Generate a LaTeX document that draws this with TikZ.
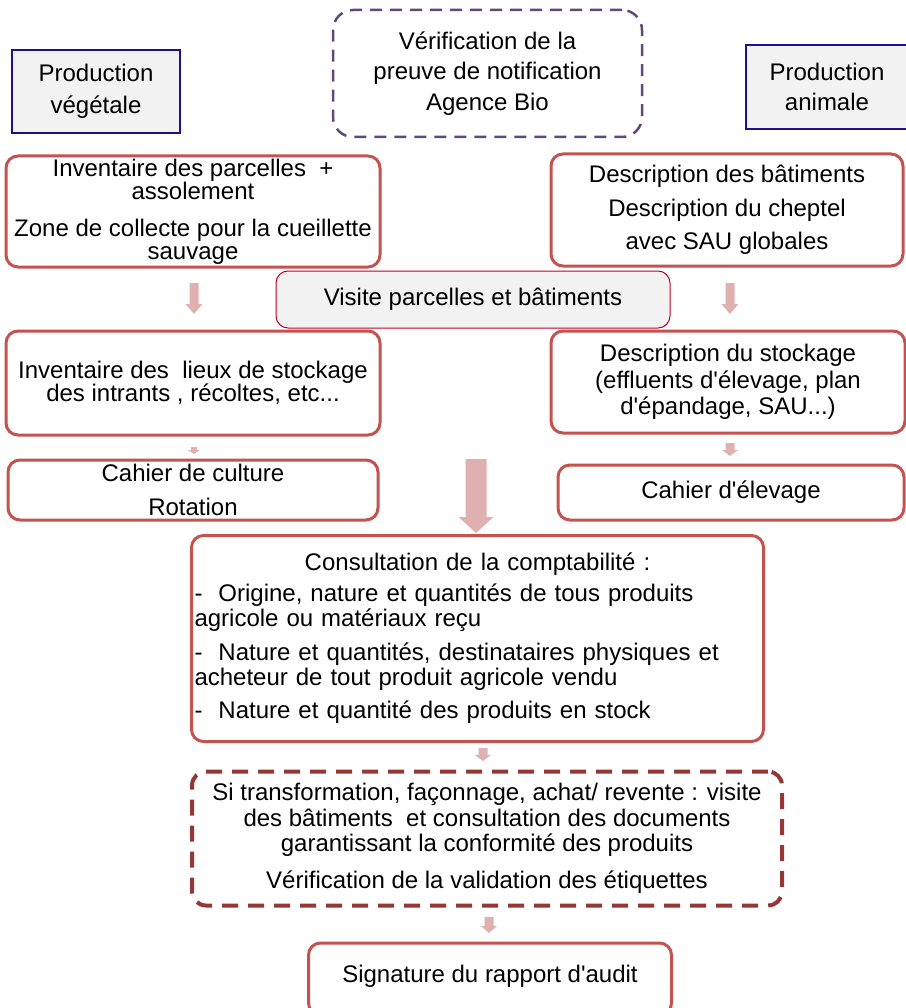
\documentclass[tikz,border=0pt]{standalone}
\usepackage{fontspec}
\setmainfont{Liberation Sans}
\definecolor{boxred}{HTML}{C4524F}
\definecolor{navyline}{HTML}{20108C}
\definecolor{lightfill}{HTML}{F2F2F2}
\definecolor{verifline}{HTML}{5F497A}
\definecolor{visitline}{HTML}{C0002A}
\definecolor{transfline}{HTML}{953735}
\definecolor{arrowpink}{HTML}{DFB0B0}
\newcommand{\ap}{\textquotesingle}
\newcommand{\blockarrow}[6]{%
  \fill[arrowpink] (#1-#4,-#2) -- (#1+#4,-#2) -- (#1+#4,-#3+#6) -- (#1+#5,-#3+#6)
    -- (#1,-#3) -- (#1-#5,-#3+#6) -- (#1-#4,-#3+#6) -- cycle;}

\begin{document}
\begin{tikzpicture}[x=1pt, y=1pt,
    every node/.style={font=\fontsize{24}{25}\selectfont, align=center, inner sep=0pt},
    prodbox/.style={draw=navyline, fill=lightfill, line width=2pt},
    verifbox/.style={draw=verifline, line width=2.5pt, dash pattern=on 12pt off 8pt, rounded corners=20pt},
    redbox/.style={draw=boxred, line width=3pt, rounded corners=12pt},
    visitbox/.style={draw=visitline, fill=lightfill, line width=1pt, rounded corners=12pt},
    transfbox/.style={draw=transfline, line width=4pt, dash pattern=on 16pt off 10pt, rounded corners=14pt}]
  \useasboundingbox (0,0) rectangle (905,-1008);

  \node[prodbox, minimum width=168, minimum height=83] (veg) at (96,-91.5) {Production\\[7pt]végétale};
  \node[verifbox, minimum width=309, minimum height=127] (verif) at (487.5,-73.5)
       {Vérification de la\\[5.5pt]preuve de notification\\[5.5pt]Agence Bio};
  \node[prodbox, minimum width=162, minimum height=84] (anim) at (827,-87) {Production\\[5pt]animale};

  \node[redbox, minimum width=374, minimum height=111] (parc) at (193,-211.5)
       {Inventaire des parcelles\ \ +\\[-2pt]assolement\\[12pt]Zone de collecte pour la cueillette\\[-2pt]sauvage};
  \node[redbox, minimum width=352, minimum height=112] (batim) at (727,-210)
       {Description des bâtiments\\[8.5pt]Description du cheptel\\[8.5pt]avec SAU globales};
  \node[visitbox, minimum width=394, minimum height=57] (visite) at (473,-299.5) {Visite parcelles et bâtiments};

  \node[redbox, minimum width=374, minimum height=104] (lieux) at (193,-383)
       {Inventaire des\ \ lieux de stockage\\[-2pt]des intrants , récoltes, etc...};
  \node[redbox, minimum width=354, minimum height=102] (stock) at (728,-382)
       {Description du stockage\\[1.5pt](effluents d\ap élevage, plan\\[1.5pt]d\ap épandage, SAU...)};

  \node[redbox, minimum width=370, minimum height=60] (cult) at (193,-490) {Cahier de culture\\[9pt]Rotation};
  \node[redbox, minimum width=346, minimum height=55] (elev) at (731,-492.5) {Cahier d\ap élevage};

  \node[redbox, minimum width=572, minimum height=206, text width=566, align=left] (compta) at (477.5,-638.5)
       {{\centering Consultation de la comptabilité :\par}\vspace{6pt}
        -\ \ Origine, nature et quantités de tous produits\\
        agricole ou matériaux reçu\\[9pt]
        -\ \ Nature et quantités, destinataires physiques et\\
        acheteur de tout produit agricole vendu\\[8pt]
        -\ \ Nature et quantité des produits en stock};

  \node[transfbox, minimum width=590, minimum height=134] (transf) at (487,-838.5)
       {Si transformation, façonnage, achat/ revente : visite\\[1pt]des bâtiments\ \ et consultation des documents\\garantissant la conformité des produits\\[12pt]Vérification de la validation des étiquettes};

  \node[redbox, minimum width=363, minimum height=72] (sig) at (490,-979)
       {\raisebox{10pt}{Signature du rapport d\ap audit}};

  \blockarrow{194}{283}{314}{4.5}{8.5}{10}
  \blockarrow{730}{283}{314}{4.5}{8.5}{10}
  \blockarrow{194}{447}{454}{3}{6}{4}
  \blockarrow{730}{443}{456}{4.5}{8}{6}
  \blockarrow{476}{459}{533}{10.5}{17.5}{16}
  \blockarrow{483}{748}{761}{4.5}{8}{6}
  \blockarrow{489}{917}{933}{4.5}{8}{7}
\end{tikzpicture}
\end{document}
